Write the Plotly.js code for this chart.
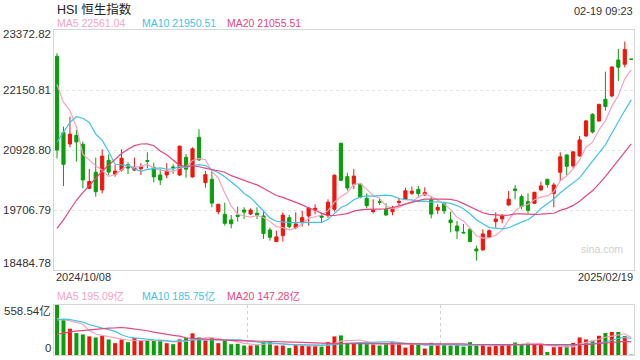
<!DOCTYPE html>
<html><head><meta charset="utf-8">
<script src="https://cdn.plot.ly/plotly-3.0.1.min.js"></script>
<style>html,body{margin:0;padding:0;background:#fff}#chart{width:640px;height:360px}</style>
</head><body><div id="chart"></div>
<script>
// ---- data ----
const dates = ['2024/10/08','2024/10/09','2024/10/10','2024/10/14','2024/10/15','2024/10/16','2024/10/17','2024/10/18','2024/10/21','2024/10/22','2024/10/23','2024/10/24','2024/10/25','2024/10/28','2024/10/29','2024/10/30','2024/10/31',
'2024/11/01','2024/11/04','2024/11/05','2024/11/06','2024/11/07','2024/11/08','2024/11/11','2024/11/12','2024/11/13','2024/11/14','2024/11/15','2024/11/18','2024/11/19','2024/11/20','2024/11/21','2024/11/22','2024/11/25','2024/11/26','2024/11/27','2024/11/28','2024/11/29',
'2024/12/02','2024/12/03','2024/12/04','2024/12/05','2024/12/06','2024/12/09','2024/12/10','2024/12/11','2024/12/12','2024/12/13','2024/12/16','2024/12/17','2024/12/18','2024/12/19','2024/12/20','2024/12/23','2024/12/24','2024/12/27','2024/12/30','2024/12/31',
'2025/01/02','2025/01/03','2025/01/06','2025/01/07','2025/01/08','2025/01/09','2025/01/10','2025/01/13','2025/01/14','2025/01/15','2025/01/16','2025/01/17','2025/01/20','2025/01/21','2025/01/22','2025/01/23','2025/01/24','2025/01/27','2025/01/28',
'2025/02/03','2025/02/04','2025/02/05','2025/02/06','2025/02/07','2025/02/10','2025/02/11','2025/02/12','2025/02/13','2025/02/14','2025/02/17','2025/02/18','2025/02/19'];

const opens = [22837,21282,21052,21228,21045,20149,20475,20115,20719,20434,20522,20630,20520,20545,20712,20570,20420,
20420,20583,20420,20780,20380,21187,20264,20332,19673,19619,19504,19605,19707,19626,19640,19585,19300,19063,19185,19551,19347,
19449,19585,19707,19585,19592,19721,21065,20386,20230,20237,19945,19673,19877,19721,19673,19860,19924,20047,20128,20013,
19924,19707,19843,19504,19382,19252,19313,18913,18893,19151,19470,19524,19809,20135,19979,19877,19843,20115,20332,
20047,20475,20828,20604,20807,21214,21656,21520,21961,22029,22762,22674,22777.46];

const highs = [22898,21405,21608,21337,21099,20543,20773,20943,20841,20624,20943,20680,20773,20658,20882,20671,20543,
20658,20637,21020,20848,20984,21350,20502,20488,19830,19857,19605,19775,19762,19741,19762,19687,19347,19286,19660,19605,19660,
19687,19762,19823,19653,19925,20434,21080,20468,20543,20250,20047,19925,19931,19843,19790,19950,20162,20183,20196,20169,
19979,19829,19877,19673,19483,19422,19334,18981,19313,19313,19660,19626,20094,20216,20026,20047,20080,20284,20340,
20264,20882,20840,20900,21214,21540,21676,21870,22525,22630,22986,23136,22777.46];

const lows = [20760,20196,20984,20692,20149,20135,19979,20047,20420,20386,20488,20440,20500,20420,20556,20271,20216,
20352,20441,20400,20366,20366,20705,20162,19762,19619,19388,19334,19470,19524,19605,19524,19117,19083,19063,19063,19334,19313,
19368,19388,19619,19449,19551,19673,20300,20101,20135,19945,19741,19639,19809,19590,19600,19800,19911,20013,19979,19992,
19537,19626,19626,19252,19117,19232,19049,18676,18880,19140,19347,19436,19796,19924,19720,19639,19829,20101,20162,
19761,20298,20420,20556,20794,21201,21269,21507,21730,22002,22335,22613,22777.46];

const closes = [20926.79,20637.24,21251.98,21092.87,20318.79,20286.76,20079.11,20804.11,20478.46,20498.95,20760.15,20560,20570,20590,20701.07,20380.64,20317.33,
20506.43,20567.52,21006.97,20538.38,20953.34,20728.19,20426.93,19846.88,19823.46,19435.81,19426.34,19576.61,19663.67,19705.01,19601.11,19229.97,19150.99,19159.20,19603.13,19366.96,19423.61,
19550.29,19746.32,19742.46,19560.44,19865.85,20414.09,20311.28,20155.05,20397.05,19971.24,19795.49,19700.42,19864.55,19605,19720.70,19883.13,20098.29,20090.46,20041.42,20059.95,
19623.32,19760.27,19688.29,19447.58,19279.84,19240.89,19064.29,18874.14,19219.78,19286.07,19522.89,19584.06,19925.81,20106.55,19778.77,19700.56,20066.19,20197.77,20225.11,
20217.26,20789.96,20597.09,20891.62,21133.54,21521.98,21294.86,21857.92,21814.37,22620.33,22616.23,22976.81,22777.46];

// turnover, 亿
const volumes = [558.54,389,294,245,230,208,196,215,174,132,174,143,189,159,162,159,162,
132,121,174,189,242,196,162,189,132,162,121,125,106,106,113,151,155,106,106,79,113,
106,106,106,94,143,208,219,136,132,143,121,117,106,132,143,132,83,125,125,72,
136,125,113,106,117,94,143,109,113,94,106,117,119,140,120,137,120,128,33,
87,100,104.1,135,196,174,162,215.05,245,257,258,211,4.45];

// closes / turnover of the 19 sessions before the window (for the moving averages)
const priorCloses = [17196.96,17234.09,17108.71,17240.39,17369.09,17422.12,17660.02,18013.16,18258.57,18247.11,18777.07,19129.10,19924.58,20632.30,21133.68,22443.73,22113.51,22736.87,23099.78];
const priorVolumes = [60,62,58,65,63,70,75,80,85,92,280,330,370,400,469,440,380,330,332];

const priceTicks = ['23372.82','22150.81','20928.80','19706.79','18484.78'];
const volumeTicks = ['558.54','0'];
const titleText = 'HSI 恒生指数';
const stampText = '02-19 09:23';
const maPeriods = [5, 10, 20];

// ---- helpers ----
const UP = '#f0160c', DN = '#0a9e0a';
const MA_COLORS = ['#f5a3c2', '#3fc3e6', '#e8467c'];
const FONT = 'Liberation Sans, Arial, Noto Sans CJK SC, sans-serif';
const idx = closes.map((_, i) => i);

function movingAvg(prior, vals, n) {
  const all = prior.concat(vals);
  return vals.map((_, i) => {
    const j = i + prior.length;
    if (j - n + 1 < 0) return null;
    let s = 0;
    for (let k = j - n + 1; k <= j; k++) s += all[k];
    return s / n;
  });
}
const dir = closes.map((c, i) => {
  const o = opens[i];
  if (c > o) return 1;
  if (c < o) return -1;
  const prev = i === 0 ? priorCloses[priorCloses.length - 1] : closes[i - 1];
  return c >= prev ? 1 : -1;
});

const priceMA = maPeriods.map(n => movingAvg(priorCloses, closes, n));
const volMA = maPeriods.map(n => movingAvg(priorVolumes, volumes, n));

const N = closes.length;
const xr = [-0.47, N - 1 + 0.43];

const traces = [];
traces.push({
  type: 'candlestick', x: idx, open: opens, high: highs, low: lows, close: closes,
  xaxis: 'x', yaxis: 'y', whiskerwidth: 0,
  increasing: { line: { color: UP, width: 1 }, fillcolor: UP },
  decreasing: { line: { color: DN, width: 1 }, fillcolor: DN },
  hoverinfo: 'skip'
});
maPeriods.forEach((n, k) => {
  traces.push({ type: 'scatter', mode: 'lines', x: idx, y: priceMA[k], xaxis: 'x', yaxis: 'y',
    line: { color: MA_COLORS[k], width: 1.2 }, hoverinfo: 'skip' });
});
traces.push({ type: 'bar', x: idx, y: volumes, xaxis: 'x2', yaxis: 'y2', width: 0.62,
  marker: { color: dir.map(d => d > 0 ? UP : DN), line: { width: 0 } }, hoverinfo: 'skip' });
maPeriods.forEach((n, k) => {
  traces.push({ type: 'scatter', mode: 'lines', x: idx, y: volMA[k], xaxis: 'x2', yaxis: 'y2',
    line: { color: MA_COLORS[k], width: 1.2 }, hoverinfo: 'skip' });
});

// pixel helpers for placing text
const T = 30, B = 355, L = 54, R = 634;
const px = p => (p - L) / (R - L);
const py = p => (B - p) / (B - T);

const ann = [];
ann.push({ text: titleText, xref: 'paper', yref: 'paper', x: px(55), y: py(9), xanchor: 'left', yanchor: 'middle', showarrow: false, font: { family: FONT, size: 12.5, color: '#222' } });
ann.push({ text: stampText, xref: 'paper', yref: 'paper', x: px(635), y: py(11), xanchor: 'right', yanchor: 'middle', showarrow: false, font: { family: FONT, size: 11, color: '#333' } });
const legX = [55, 140, 225];
maPeriods.forEach((n, k) => {
  ann.push({ text: 'MA' + n + ' ' + priceMA[k][N - 1].toFixed(2), xref: 'paper', yref: 'paper', x: px(legX[k]), y: py(23.5), xanchor: 'left', yanchor: 'middle', showarrow: false, font: { family: FONT, size: 10.5, color: MA_COLORS[k] } });
  ann.push({ text: 'MA' + n + ' ' + volMA[k][N - 1].toFixed(2) + '亿', xref: 'paper', yref: 'paper', x: px(legX[k]), y: py(296), xanchor: 'left', yanchor: 'middle', showarrow: false, font: { family: FONT, size: 10.5, color: MA_COLORS[k] } });
});
priceTicks.forEach((t, k) => {
  const shift = k === 0 ? -4 : (k === priceTicks.length - 1 ? 7 : 0);
  ann.push({ text: t, xref: 'paper', yref: 'y', x: 0, y: parseFloat(t), xanchor: 'right', yanchor: 'middle', xshift: -1, yshift: shift, showarrow: false, font: { family: FONT, size: 11.5, color: '#333' } });
});
volumeTicks.forEach((t, k) => {
  const shift = k === 0 ? -6 : 7;
  ann.push({ text: k === 0 ? t + '亿' : t, xref: 'paper', yref: 'y2', x: 0, y: parseFloat(t), xanchor: 'right', yanchor: 'middle', xshift: -1, yshift: shift, showarrow: false, font: { family: FONT, size: 11.5, color: '#333' } });
});
ann.push({ text: dates[0], xref: 'paper', yref: 'paper', x: px(54), y: py(277), xanchor: 'left', yanchor: 'middle', showarrow: false, font: { family: FONT, size: 11, color: '#333' } });
ann.push({ text: dates[N - 1], xref: 'paper', yref: 'paper', x: px(635), y: py(277), xanchor: 'right', yanchor: 'middle', showarrow: false, font: { family: FONT, size: 11, color: '#333' } });
ann.push({ text: 'sina.com', xref: 'paper', yref: 'paper', x: px(602), y: py(249), xanchor: 'center', yanchor: 'middle', showarrow: false, font: { family: FONT, size: 10.5, color: '#d0d0d0' } });

const axisBox = { showline: true, mirror: true, linecolor: '#d6d6d6', linewidth: 1, zeroline: false, fixedrange: true, ticks: '' };
const layout = {
  width: 640, height: 360,
  margin: { l: L, r: 640 - R, t: T, b: 360 - B, pad: 0 },
  paper_bgcolor: '#fff', plot_bgcolor: '#fff', showlegend: false,
  font: { family: FONT, size: 11, color: '#333' },
  xaxis: Object.assign({ domain: [0, 1], range: xr, anchor: 'y', showticklabels: false, showgrid: false, rangeslider: { visible: false } }, axisBox),
  yaxis: Object.assign({ domain: [py(270), 1], range: [parseFloat(priceTicks[4]), parseFloat(priceTicks[0])], anchor: 'x', tickvals: priceTicks.map(parseFloat), showticklabels: false, showgrid: true, gridcolor: '#e2e2e2', griddash: 'dot', gridwidth: 1 }, axisBox),
  xaxis2: Object.assign({ domain: [0, 1], range: xr, anchor: 'y2', showticklabels: false, showgrid: true, gridcolor: '#d0d0d0', griddash: 'dot', gridwidth: 1,
    tickvals: [xr[0] + (xr[1] - xr[0]) / 3, xr[0] + 2 * (xr[1] - xr[0]) / 3] }, axisBox),
  yaxis2: Object.assign({ domain: [0, py(305)], range: [0, parseFloat(volumeTicks[0])], anchor: 'x2', showticklabels: false, showgrid: false }, axisBox),
  annotations: ann
};
Plotly.newPlot('chart', traces, layout, { staticPlot: true, displayModeBar: false });
</script>
</body></html>
